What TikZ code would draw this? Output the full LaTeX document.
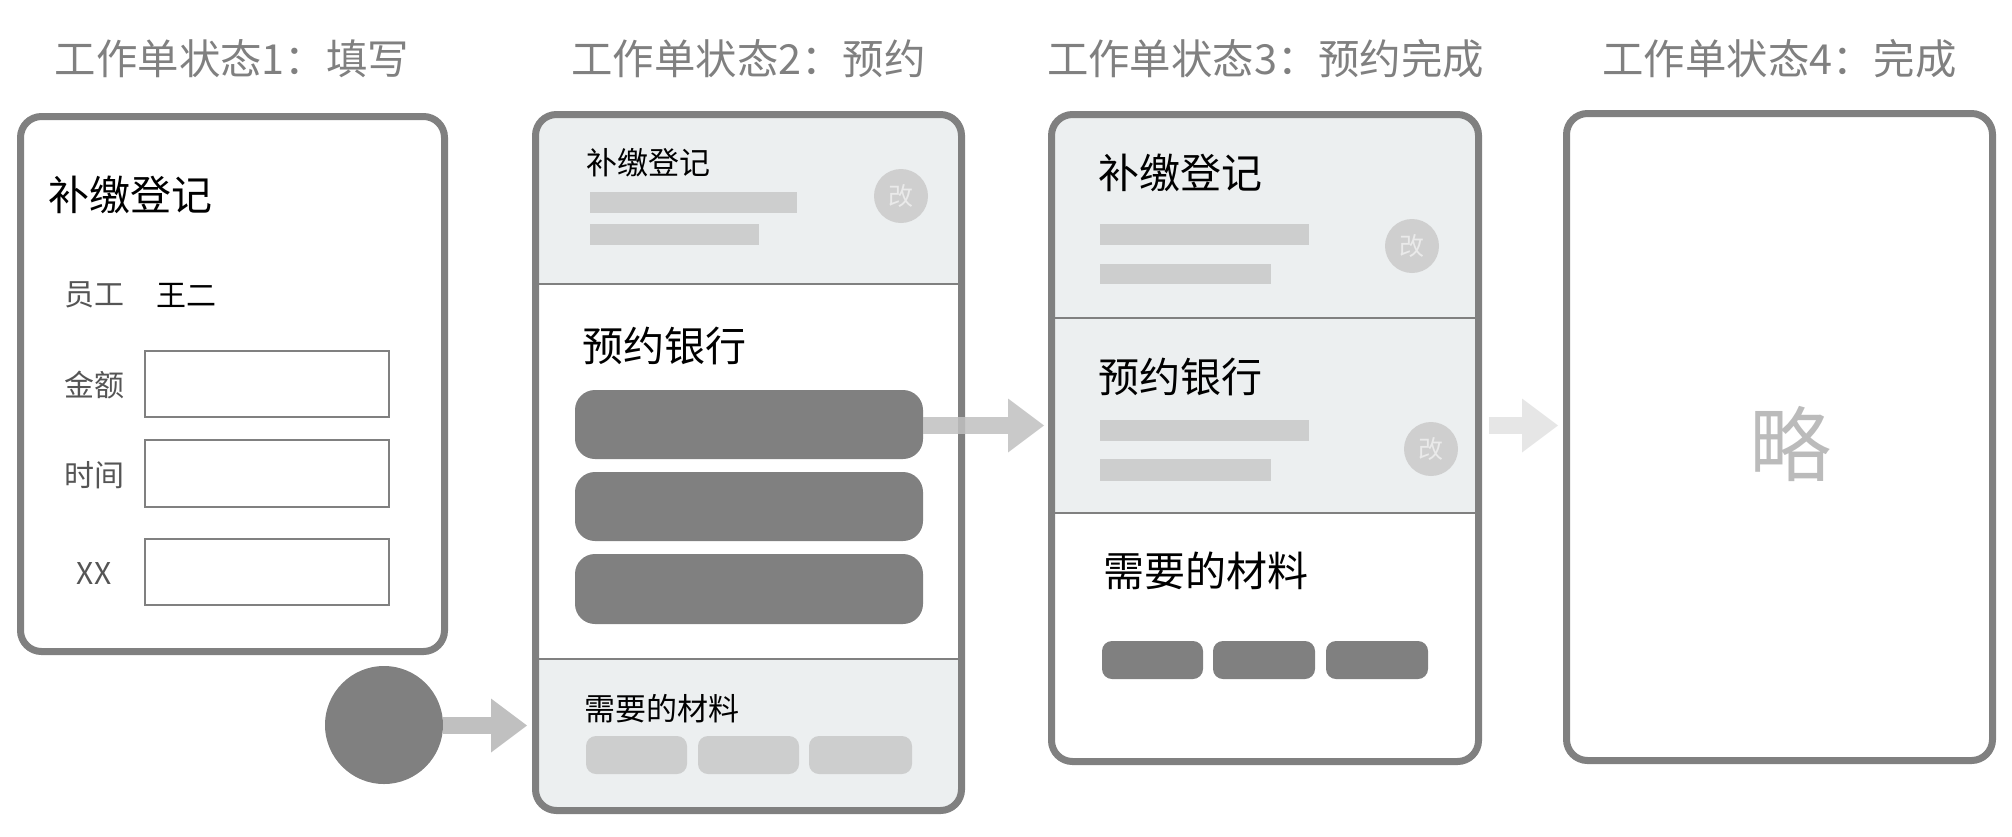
\documentclass[tikz,border=0pt]{standalone}
\usepackage{fontspec}
\setmainfont{Noto Sans CJK SC}
\usetikzlibrary{arrows.meta}
\definecolor{bord}{HTML}{808080}
\definecolor{secfill}{HTML}{ECEFF0}
\definecolor{barc}{HTML}{CDCECE}
\definecolor{chgc}{HTML}{CFCFCF}
\definecolor{chgt}{HTML}{EAEAEA}
\definecolor{arrA}{HTML}{C0C0C0}
\definecolor{arrB}{HTML}{E6E6E6}
\definecolor{lbl}{HTML}{555555}
\definecolor{omit}{HTML}{BBBBBB}
\tikzset{
  panel/.style={draw=bord, line width=3.5pt, rounded corners=10.5pt},
  divider/.style={draw=bord, line width=1pt},
  ttl/.style={inner sep=0pt, text=bord, font=\fontsize{20.7pt}{24pt}\selectfont},
  head/.style={inner sep=0pt, anchor=west, font=\fontsize{20.5pt}{24pt}\selectfont},
  small/.style={inner sep=0pt, anchor=west, font=\fontsize{15.5pt}{18pt}\selectfont},
  lab/.style={inner sep=0pt, text=lbl, font=\fontsize{15pt}{18pt}\selectfont},
  inbox/.style={draw=bord, line width=1pt},
  bar/.style={fill=barc},
  chip/.style={fill=barc, rounded corners=5pt},
  darkchip/.style={fill=bord, rounded corners=5pt},
  btn/.style={fill=bord, rounded corners=10pt},
  chg/.style={circle, fill=chgc, inner sep=0pt, minimum size=27pt, text=chgt, font=\fontsize{12.5pt}{14pt}\selectfont},
  bigarrow/.style={line width=8.5pt, -{Triangle[length=18pt,width=27pt,line width=0pt]}},
}
\begin{document}
\begin{tikzpicture}[x=0.5pt,y=-0.5pt]
\useasboundingbox (0,0) rectangle (2012,836);

% titles
\node[ttl] (t1) at (232,58.5) {工作单状态1：填写};
\node[ttl] (t2) at (748.5,59) {工作单状态2：预约};
\node[ttl] (t3) at (1265.5,59) {工作单状态3：预约完成};
\node[ttl] (t4) at (1779.5,59) {工作单状态4：完成};

% ---------- panel 1
\draw[panel] (20.5,116.5) rectangle (444.5,651.5);
\node[head] (p1h) at (48,195) {补缴登记};
\node[lab] (l1) at (94,295) {员工};
\node[inner sep=0pt, anchor=west, font=\fontsize{15pt}{18pt}\selectfont] (l1v) at (156,295) {王二};
\node[lab] (l2) at (94,385) {金额};
\node[lab] (l3) at (94,475) {时间};
\node[lab] (l4) at (94,573) {XX};
\draw[inbox] (145,351) rectangle (389,417);
\draw[inbox] (145,440) rectangle (389,507);
\draw[inbox] (145,539) rectangle (389,605);

% dot + arrow into panel 2
\node[circle, fill=bord, minimum size=59pt, inner sep=0pt] (dot) at (384,725) {};
\coordinate (p2in) at (527,725.5);
\draw[arrA, bigarrow] (dot.east |- p2in) -- (p2in);

% ---------- panel 2
\begin{scope}
\clip[rounded corners=10.5pt] (535.5,114.5) rectangle (961.5,810.5);
\fill[secfill] (535.5,114.5) rectangle (961.5,284);
\fill[secfill] (535.5,659) rectangle (961.5,810.5);
\end{scope}
\draw[divider] (535.5,284) -- (961.5,284);
\draw[divider] (535.5,659) -- (961.5,659);
\node[small] (p2a) at (586,163) {补缴登记};
\fill[bar] (590,192) rectangle (797,213);
\fill[bar] (590,224) rectangle (759,245);
\node[chg] (c2) at (901,196) {改};
\node[head] (p2b) at (582,346) {预约银行};
\fill[btn] (575,390) rectangle (923,459);
\fill[btn] (575,472) rectangle (923,541);
\fill[btn] (575,554) rectangle (923,624);
\coordinate (b1e) at (923,425.5);
\node[small] (p2c) at (584,709) {需要的材料};
\fill[chip] (586,736) rectangle (687,774);
\fill[chip] (698,736) rectangle (799,774);
\fill[chip] (809,736) rectangle (912,774);
\draw[panel] (535.5,114.5) rectangle (961.5,810.5);

% arrow 2 -> 3
\coordinate (p3in) at (1044,425.5);
\draw[arrA, bigarrow, opacity=0.85] (b1e) -- (p3in);

% ---------- panel 3
\begin{scope}
\clip[rounded corners=10.5pt] (1051.5,114.5) rectangle (1478.5,761.5);
\fill[secfill] (1051.5,114.5) rectangle (1478.5,513);
\end{scope}
\draw[divider] (1051.5,318) -- (1478.5,318);
\draw[divider] (1051.5,513) -- (1478.5,513);
\node[head] (p3a) at (1098,173) {补缴登记};
\fill[bar] (1100,224) rectangle (1309,245);
\fill[bar] (1100,264) rectangle (1271,284);
\node[chg] (c3a) at (1412,246) {改};
\node[head] (p3b) at (1098,377) {预约银行};
\fill[bar] (1100,420) rectangle (1309,441);
\fill[bar] (1100,459) rectangle (1271,481);
\node[chg] (c3b) at (1431,449) {改};
\node[head] (p3c) at (1103,571) {需要的材料};
\fill[darkchip] (1102,641) rectangle (1203,679);
\fill[darkchip] (1213,641) rectangle (1315,679);
\fill[darkchip] (1326,641) rectangle (1428,679);
\draw[panel] (1051.5,114.5) rectangle (1478.5,761.5);

% arrow 3 -> 4
\coordinate (p3out) at (1489,425.5);
\coordinate (p4in) at (1558,425.5);
\draw[arrB, bigarrow] (p3out) -- (p4in);

% ---------- panel 4
\draw[panel] (1566.5,113.5) rectangle (1992.5,760.5);
\node[inner sep=0pt, text=omit, font=\fontsize{41pt}{48pt}\selectfont] (om) at (1790,444) {略};
\end{tikzpicture}
\end{document}
